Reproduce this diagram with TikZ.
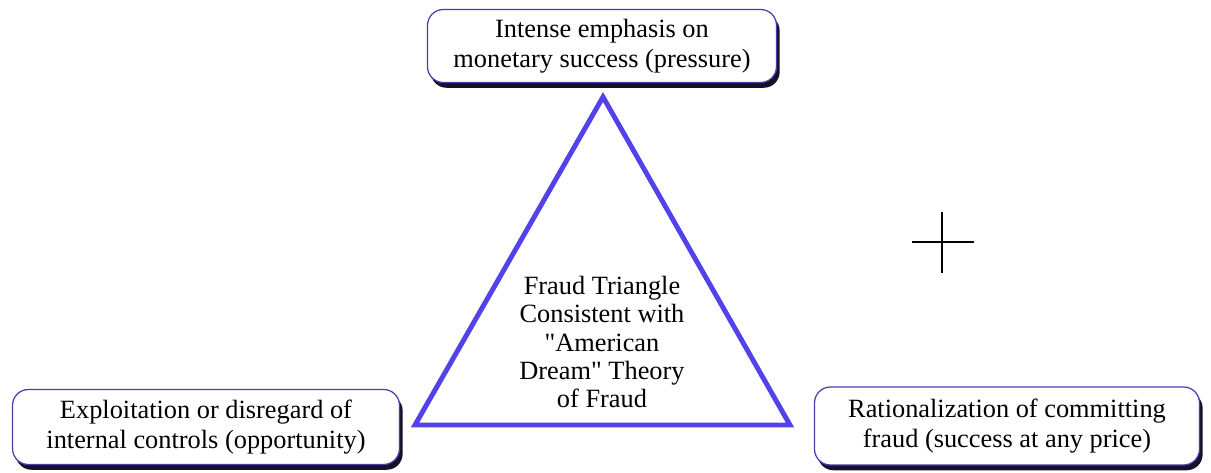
\documentclass[tikz,border=0pt]{standalone}
\usepackage{fontspec}
\setmainfont{Liberation Serif}
\usetikzlibrary{shadows}
\definecolor{triblue}{RGB}{82,66,232}
\definecolor{boxedge}{RGB}{72,62,170}
\definecolor{shade}{RGB}{20,18,40}
\tikzset{
  factor/.style={draw=boxedge, line width=0.7pt, rounded corners=9pt, fill=white,
    align=center, inner sep=0pt, font=\fontsize{15}{17}\selectfont,
    drop shadow={shadow xshift=1.8pt, shadow yshift=-3pt, fill=shade, opacity=1}},
  side/.style={draw=triblue, line width=2.8pt, line join=miter}
}
\begin{document}
\begin{tikzpicture}[x=0.02cm,y=-0.02cm]
\useasboundingbox[fill=white] (0,0) rectangle (1211,473);

\node[factor, minimum width=6.98cm, minimum height=1.46cm] (pressure) at (602,46)
  {Intense emphasis on\\monetary success (pressure)};
\node[factor, minimum width=7.74cm, minimum height=1.5cm] (opportunity) at (206,427)
  {Exploitation or disregard of\\internal controls (opportunity)};
\node[factor, minimum width=7.7cm, minimum height=1.56cm] (rational) at (1007,426)
  {Rationalization of committing\\fraud (success at any price)};

\coordinate (apex) at (603,97);
\coordinate (left) at (415,425);
\coordinate (right) at (790,425);
\draw[side] (apex) -- (left) -- (right) -- cycle;
\node[align=center, font=\fontsize{15}{16}\selectfont] (theory) at (602,342)
  {Fraud Triangle\\Consistent with\\\textquotedbl American\\Dream\textquotedbl{} Theory\\of Fraud};

\coordinate (cross) at (942,242);
\draw[line width=0.6pt] ([xshift=-0.6cm]cross) -- ([xshift=0.64cm]cross);
\draw[line width=0.6pt] ([yshift=0.6cm]cross) -- ([yshift=-0.62cm]cross);
\end{tikzpicture}
\end{document}
